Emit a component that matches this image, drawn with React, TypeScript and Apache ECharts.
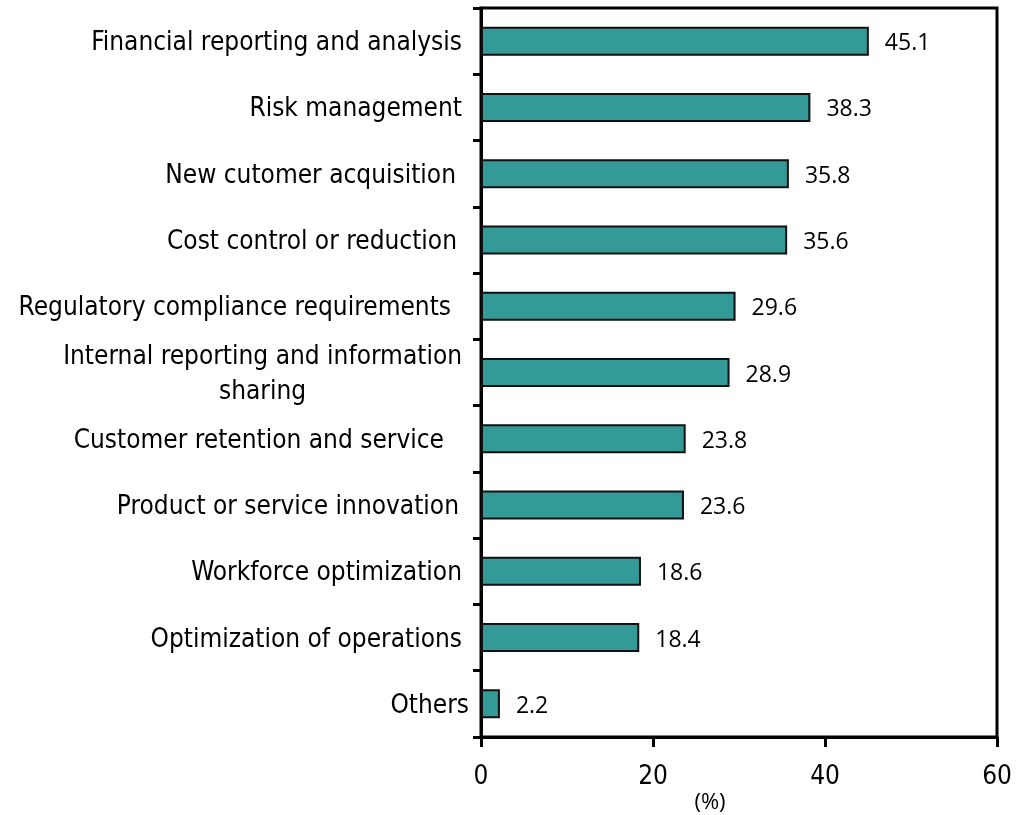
import React, { useEffect, useRef } from "react";
import * as echarts from "echarts";

const categories = [
  "Financial reporting and analysis",
  "Risk management",
  "New cutomer acquisition",
  "Cost control or reduction",
  "Regulatory compliance requirements",
  "Internal reporting and information sharing",
  "Customer retention and service",
  "Product or service innovation",
  "Workforce optimization",
  "Optimization of operations",
  "Others",
];
const values = [45.1, 38.3, 35.8, 35.6, 29.6, 28.9, 23.8, 23.6, 18.6, 18.4, 2.2];
const xTicks = { min: 0, max: 60, interval: 20 };
const unitLabel = "(%)";

const LABEL_FONT = '"DejaVu Sans Condensed", "Noto Sans", sans-serif';
const VALUE_FONT = '"Open Sans", "Noto Sans", sans-serif';

// extra right padding (px) of particular category labels, styling only
const labelPadStyle: Record<string, string> = {
  "New cutomer acquisition": "p13",
  "Cost control or reduction": "p12",
  "Regulatory compliance requirements": "p18",
  "Customer retention and service": "p25",
  "Product or service innovation": "p10",
  Others: "p0",
};

const mkPad = (n: number) => ({
  fontSize: 26,
  fontFamily: LABEL_FONT,
  color: "#000",
  padding: [0, n, 0, 0],
});

export default function App() {
  const ref = useRef<HTMLDivElement>(null);
  useEffect(() => {
    if (!ref.current) return;
    const chart = echarts.init(ref.current, undefined, { renderer: "svg" });
    chart.setOption({
      animation: false,
      grid: {
        left: 481,
        right: 21,
        top: 8,
        bottom: 78,
        show: true,
        borderColor: "#000",
        borderWidth: 3,
        containLabel: false,
        outerBoundsMode: "none",
      },
      xAxis: {
        type: "value",
        min: xTicks.min,
        max: xTicks.max,
        interval: xTicks.interval,
        axisLine: { show: true, lineStyle: { color: "#000", width: 3 } },
        axisTick: { show: true, inside: false, length: 10, lineStyle: { color: "#000", width: 3 } },
        axisLabel: { color: "#000", fontSize: 26, fontFamily: LABEL_FONT, margin: 25 },
        splitLine: { show: false },
      },
      yAxis: {
        type: "category",
        data: categories,
        inverse: true,
        axisLine: { show: true, lineStyle: { color: "#000", width: 3 } },
        axisTick: { show: true, inside: false, length: 8, lineStyle: { color: "#000", width: 3 } },
        axisLabel: {
          color: "#000",
          fontSize: 26,
          fontFamily: LABEL_FONT,
          margin: 12,
          formatter: (v: string) => {
            if (v === "Internal reporting and information sharing") {
              return "{c|Internal reporting and information}\n{c|sharing}";
            }
            const key = labelPadStyle[v] || "p7";
            return `{${key}|${v}}`;
          },
          rich: {
            c: {
              align: "center",
              fontSize: 26,
              fontFamily: LABEL_FONT,
              color: "#000",
              lineHeight: 35,
              padding: [0, 7, 0, 0],
            },
            p0: mkPad(0),
            p7: mkPad(7),
            p10: mkPad(10),
            p12: mkPad(12),
            p13: mkPad(13),
            p18: mkPad(18),
            p25: mkPad(25),
          },
        },
      },
      series: [
        {
          type: "bar",
          data: values,
          barWidth: 29,
          itemStyle: { color: "#339A97", borderColor: "#111", borderWidth: 2 },
          label: {
            show: true,
            position: "right",
            distance: 16,
            color: "#000",
            fontSize: 23,
            fontFamily: VALUE_FONT,
            formatter: (p: any) => p.value.toFixed(1),
          },
        },
      ],
      graphic: [
        {
          type: "text",
          x: 710,
          y: 800,
          style: {
            text: unitLabel,
            fontSize: 22,
            fontFamily: VALUE_FONT,
            fill: "#000",
            textAlign: "center",
            textVerticalAlign: "middle",
          },
        },
      ],
    });
    return () => chart.dispose();
  }, []);
  return (
    <div
      ref={ref}
      style={{ position: "fixed", left: 0, top: 0, width: 1018, height: 815 }}
    />
  );
}
